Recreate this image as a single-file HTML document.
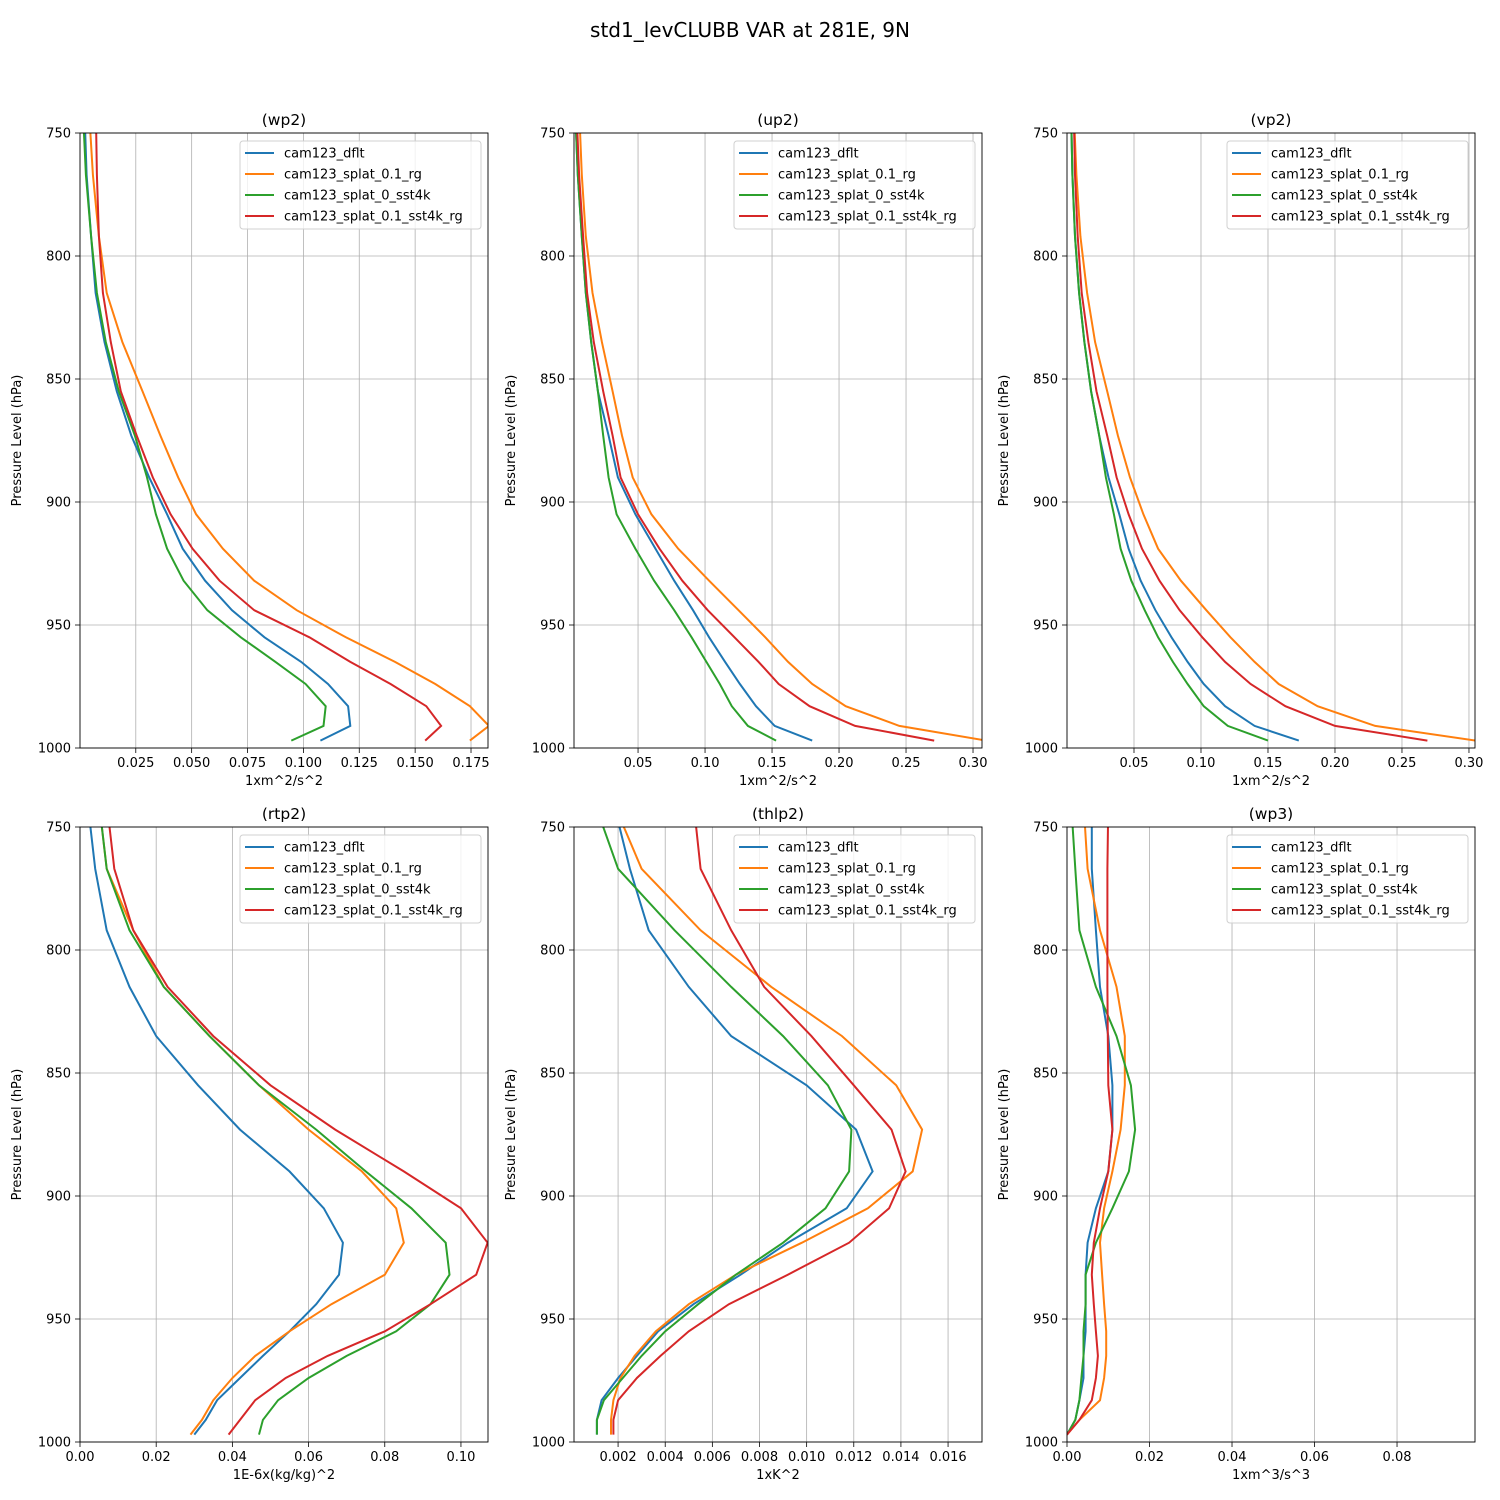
<!DOCTYPE html>
<html><head><meta charset="utf-8"><style>
body{margin:0;background:#fff;}
svg{display:block;font-family:"DejaVu Sans","Liberation Sans",sans-serif;}
</style></head><body>
<svg id="fig" width="1500" height="1500" viewBox="0 0 1500 1500" xmlns="http://www.w3.org/2000/svg">
<text x="750" y="37" font-size="20" text-anchor="middle">std1_levCLUBB VAR at 281E, 9N</text>
</svg>
<script>
const levels = [740, 767, 792, 815, 835, 855, 873, 890, 905, 919, 932, 944, 955, 965, 974, 983, 991, 997];
const seriesNames = ["cam123_dflt", "cam123_splat_0.1_rg", "cam123_splat_0_sst4k", "cam123_splat_0.1_sst4k_rg"];
const seriesColors = ["#1f77b4", "#ff7f0e", "#2ca02c", "#d62728"];
const yTicks = [750, 800, 850, 900, 950, 1000];

const wp2_dflt = [0.002,0.003,0.005,0.007,0.011,0.0165,0.023,0.031,0.039,0.046,0.056,0.068,0.0826,0.099,0.111,0.120,0.121,0.1076];
const wp2_rg = [0.004,0.0058,0.0085,0.012,0.019,0.028,0.036,0.044,0.052,0.064,0.078,0.097,0.119,0.141,0.159,0.1745,0.183,0.1745];
const wp2_sst4k = [0.0013,0.0027,0.005,0.0076,0.0116,0.0174,0.0246,0.030,0.034,0.039,0.0464,0.057,0.072,0.0875,0.101,0.110,0.109,0.0946];
const wp2_sst4k_rg = [0.0071,0.0076,0.0085,0.0103,0.0138,0.0183,0.0254,0.0326,0.0406,0.0504,0.0625,0.078,0.1027,0.121,0.139,0.155,0.1616,0.1545];

const up2_dflt = [0.003,0.005,0.008,0.011,0.015,0.020,0.028,0.035,0.048,0.063,0.077,0.091,0.103,0.115,0.126,0.138,0.152,0.180];
const up2_rg = [0.006,0.008,0.011,0.016,0.023,0.031,0.038,0.046,0.060,0.080,0.103,0.125,0.145,0.162,0.180,0.205,0.245,0.31];
const up2_sst4k = [0.003,0.005,0.008,0.011,0.015,0.020,0.024,0.028,0.034,0.048,0.062,0.077,0.090,0.101,0.111,0.120,0.132,0.153];
const up2_sst4k_rg = [0.004,0.006,0.009,0.012,0.017,0.024,0.031,0.037,0.050,0.066,0.083,0.102,0.122,0.140,0.155,0.178,0.212,0.271];

const vp2_dflt = [0.003,0.004,0.006,0.009,0.013,0.018,0.024,0.031,0.039,0.046,0.055,0.066,0.078,0.090,0.102,0.118,0.140,0.173];
const vp2_rg = [0.005,0.007,0.010,0.015,0.021,0.030,0.038,0.047,0.057,0.068,0.085,0.104,0.122,0.140,0.158,0.187,0.230,0.305];
const vp2_sst4k = [0.003,0.004,0.006,0.009,0.013,0.018,0.024,0.029,0.035,0.040,0.048,0.058,0.068,0.079,0.090,0.102,0.120,0.150];
const vp2_sst4k_rg = [0.005,0.006,0.008,0.011,0.016,0.022,0.030,0.037,0.046,0.056,0.069,0.084,0.101,0.118,0.137,0.163,0.200,0.269];

const rtp2_dflt = [0.002,0.004,0.007,0.013,0.020,0.031,0.042,0.055,0.064,0.069,0.068,0.062,0.055,0.048,0.042,0.036,0.033,0.030];
const rtp2_rg = [0.005,0.007,0.014,0.022,0.034,0.047,0.060,0.074,0.083,0.085,0.080,0.066,0.055,0.046,0.040,0.035,0.032,0.029];
const rtp2_sst4k = [0.005,0.007,0.013,0.022,0.034,0.047,0.062,0.075,0.087,0.096,0.097,0.092,0.083,0.070,0.060,0.052,0.048,0.047];
const rtp2_sst4k_rg = [0.007,0.009,0.014,0.023,0.035,0.050,0.067,0.085,0.100,0.107,0.104,0.092,0.080,0.065,0.054,0.046,0.042,0.039];

const thlp2_dflt = [0.0018,0.0025,0.0033,0.0050,0.0068,0.0100,0.0121,0.0128,0.0117,0.0092,0.0072,0.0052,0.0037,0.0028,0.0020,0.0013,0.0011,0.0011];
const thlp2_rg = [0.0018,0.0030,0.0055,0.0085,0.0115,0.0138,0.0149,0.0145,0.0126,0.0098,0.0070,0.0050,0.0036,0.0027,0.0021,0.0018,0.0017,0.0017];
const thlp2_sst4k = [0.0010,0.0020,0.0044,0.0068,0.0090,0.0109,0.0119,0.0118,0.0108,0.0090,0.0070,0.0054,0.0040,0.0030,0.0022,0.0014,0.0011,0.0011];
const thlp2_sst4k_rg = [0.0052,0.0055,0.0068,0.0082,0.0102,0.0120,0.0136,0.0142,0.0135,0.0118,0.0092,0.0067,0.0050,0.0038,0.0028,0.0020,0.0018,0.0018];

const wp3_dflt = [0.006,0.006,0.007,0.008,0.010,0.011,0.011,0.010,0.007,0.005,0.0045,0.0045,0.0045,0.004,0.004,0.003,0.002,0.000];
const wp3_rg = [0.004,0.005,0.008,0.012,0.014,0.014,0.013,0.011,0.009,0.008,0.0085,0.009,0.0095,0.0095,0.009,0.008,0.003,0.000];
const wp3_sst4k = [0.001,0.002,0.003,0.007,0.012,0.0155,0.0165,0.015,0.011,0.007,0.0045,0.0045,0.004,0.004,0.0035,0.003,0.002,0.000];
const wp3_sst4k_rg = [0.010,0.0098,0.0098,0.0098,0.0099,0.010,0.011,0.010,0.008,0.0065,0.006,0.0065,0.007,0.0075,0.007,0.006,0.003,0.000];

const wp2Ticks = [0.025,0.05,0.075,0.1,0.125,0.15,0.175];
const up2Ticks = [0.05,0.1,0.15,0.2,0.25,0.3];
const rtp2Ticks = [0,0.02,0.04,0.06,0.08,0.1];
const thlp2Ticks = [0.002,0.004,0.006,0.008,0.010,0.012,0.014,0.016];
const wp3Ticks = [0,0.02,0.04,0.06,0.08];

const panels = [
 {id:"wp2", title:"(wp2)", xlabel:"1xm^2/s^2", left:80, top:133, xmin:0.00004, xmax:0.1826, ticks:wp2Ticks, dec:3, series:[wp2_dflt,wp2_rg,wp2_sst4k,wp2_sst4k_rg]},
 {id:"up2", title:"(up2)", xlabel:"1xm^2/s^2", left:574, top:133, xmin:0.0022, xmax:0.3067, ticks:up2Ticks, dec:2, series:[up2_dflt,up2_rg,up2_sst4k,up2_sst4k_rg]},
 {id:"vp2", title:"(vp2)", xlabel:"1xm^2/s^2", left:1067, top:133, xmin:0.0, xmax:0.3045, ticks:up2Ticks, dec:2, series:[vp2_dflt,vp2_rg,vp2_sst4k,vp2_sst4k_rg]},
 {id:"rtp2", title:"(rtp2)", xlabel:"1E-6x(kg/kg)^2", left:80, top:827, xmin:0, xmax:0.1071, ticks:rtp2Ticks, dec:2, series:[rtp2_dflt,rtp2_rg,rtp2_sst4k,rtp2_sst4k_rg]},
 {id:"thlp2", title:"(thlp2)", xlabel:"1xK^2", left:574, top:827, xmin:0.00013, xmax:0.01744, ticks:thlp2Ticks, dec:3, series:[thlp2_dflt,thlp2_rg,thlp2_sst4k,thlp2_sst4k_rg]},
 {id:"wp3", title:"(wp3)", xlabel:"1xm^3/s^3", left:1067, top:827, xmin:0, xmax:0.0989, ticks:wp3Ticks, dec:2, series:[wp3_dflt,wp3_rg,wp3_sst4k,wp3_sst4k_rg]}
];
const W = 408, H = 615;
const NS = "http://www.w3.org/2000/svg";
const fig = document.getElementById("fig");
function mk(tag, attrs, parent){ const e=document.createElementNS(NS,tag); for(const k in attrs) e.setAttribute(k,attrs[k]); (parent||fig).appendChild(e); return e; }
const defs = mk("defs",{});

panels.forEach(p => {
  const g = mk("g",{});
  
  
  const xs = v => p.left + (v - p.xmin) / (p.xmax - p.xmin) * W;
  const ys = v => p.top + (v - 750) / 250 * H;
  const cp = mk("clipPath",{id:"clip-"+p.id}, defs);
  mk("rect",{x:p.left,y:p.top,width:W,height:H}, cp);
  p.ticks.forEach(t => {
    const x = xs(t);
    const gl = mk("line",{x1:x,x2:x,y1:p.top,y2:p.top+H,stroke:"#b0b0b0","stroke-width":0.8}, g);
    
    
    mk("line",{x1:x,x2:x,y1:p.top+H,y2:p.top+H+5,stroke:"#000","stroke-width":0.8}, g);
    const tl = mk("text",{x:x,y:p.top+H+19,"font-size":13,"text-anchor":"middle"}, g);
    tl.textContent = t.toFixed(p.dec);
    
    
  });
  yTicks.forEach(t => {
    const y = ys(t);
    const gl = mk("line",{x1:p.left,x2:p.left+W,y1:y,y2:y,stroke:"#b0b0b0","stroke-width":0.8}, g);
    
    
    mk("line",{x1:p.left-5,x2:p.left,y1:y,y2:y,stroke:"#000","stroke-width":0.8}, g);
    const tl = mk("text",{x:p.left-9,y:y+4.5,"font-size":13,"text-anchor":"end"}, g);
    tl.textContent = t;
    
    
  });
  p.series.forEach((s, i) => {
    const pts = s.map((v, k) => xs(v).toFixed(1) + "," + ys(levels[k]).toFixed(1)).join(" ");
    const pl = mk("polyline",{points:pts,fill:"none",stroke:seriesColors[i],"stroke-width":2,"clip-path":"url(#clip-"+p.id+")"}, g);
    
    
  });
  const fr = mk("rect",{x:p.left,y:p.top,width:W,height:H,fill:"none",stroke:"#000","stroke-width":0.9}, g);
  
  
  const tt = mk("text",{x:p.left+W/2,y:p.top-8,"font-size":15.5,"text-anchor":"middle"}, g);
  tt.textContent = p.title;
  
  
  const xt = mk("text",{x:p.left+W/2,y:p.top+H+37,"font-size":13,"text-anchor":"middle"}, g);
  xt.textContent = p.xlabel;
  
  
  const yx = p.left-59, yy = p.top+H/2;
  const yt = mk("text",{x:yx,y:yy,"font-size":13,"text-anchor":"middle",transform:"rotate(-90 "+yx+" "+yy+")"}, g);
  yt.textContent = "Pressure Level (hPa)";
  
  
  const lg = mk("g",{}, g);
  
  
  const lx = p.left+W-248;
  mk("rect",{x:lx,y:p.top+8,width:241,height:88,rx:3,fill:"#fff","fill-opacity":0.8,stroke:"#d0d0d0","stroke-width":1}, lg);
  seriesNames.forEach((n, i) => {
    const y = p.top + 20 + i*21;
    const ln = mk("line",{x1:lx+5,x2:lx+34,y1:y,y2:y,stroke:seriesColors[i],"stroke-width":2}, lg);
    
    
    const lt = mk("text",{x:lx+44,y:y+4.5,"font-size":13}, lg);
    lt.textContent = n;
    
    
  });
});
</script>
</body></html>
